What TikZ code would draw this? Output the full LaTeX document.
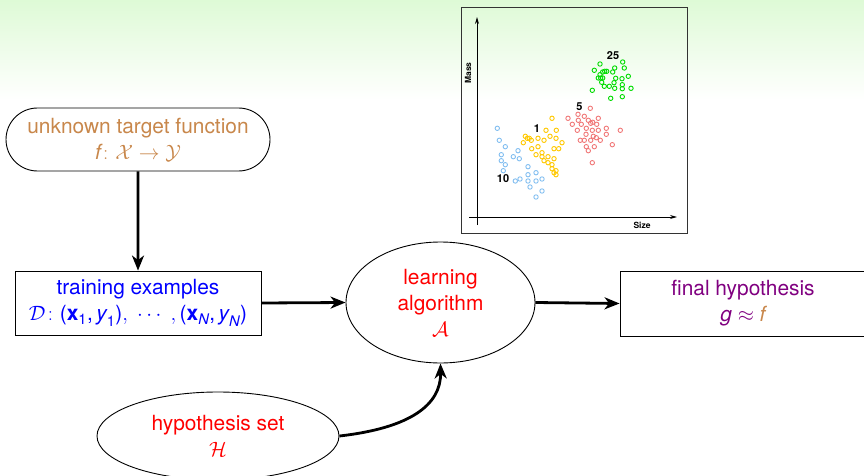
\documentclass[tikz,border=0pt]{standalone}
\usepackage{amsmath}
\usepackage{fontspec}
\setmainfont{TeX Gyre Heros}
\usetikzlibrary{shapes.geometric,shapes.misc,arrows.meta}
\definecolor{bgtop}{RGB}{222,250,214}
\definecolor{tgt}{RGB}{200,135,75}
\definecolor{fin}{RGB}{128,0,128}
\definecolor{gpt}{RGB}{0,220,0}
\definecolor{rpt}{RGB}{240,120,120}
\definecolor{ypt}{RGB}{255,200,0}
\definecolor{bpt}{RGB}{130,190,240}
\newcommand\mi[1]{\text{\itshape #1}}
\newcommand\mb[1]{\text{\bfseries #1}}
\newcommand\tp[1]{\text{#1}}
\tikzset{
  box/.style={draw=black, line width=0.9pt, inner sep=0pt, align=center,
    font=\fontsize{20.9}{26}\selectfont},
  arr/.style={line width=2.8pt, -{Stealth[length=15pt,width=12pt,inset=4.5pt]}},
  axarr/.style={line width=0.9pt, -{Stealth[length=7pt,width=4pt]}},
  pt/.style={line width=0.9pt},
  lab/.style={font=\fontsize{11}{12}\selectfont\bfseries, inner sep=0pt},
  axlab/.style={font=\fontsize{8.5}{9}\selectfont\bfseries, inner sep=0pt}
}
\begin{document}
\begin{tikzpicture}[x=1pt,y=-1pt]
\useasboundingbox (0,0) rectangle (864,476);
\shade[top color=bgtop, bottom color=white] (0,0) rectangle (864,100);
\begin{scope}
\clip (0,0) rectangle (864,476);
% scatter plot
\draw[line width=0.9pt, black!80] (461,7) rectangle (687,233);
\draw[axarr] (477,225) -- (477,17);
\draw[axarr] (469,217) -- (677,217);
\node[axlab, rotate=90] (mass) at (468,73) {Mass};
\node[axlab] (size) at (642,225) {Size};
\foreach \p in {(600.0,64.0),(622.7,62.0),(594.3,70.3),(602.7,72.0),(604.7,71.3),(606.7,71.3),(612.7,72.0),(614.7,68.0),(624.3,68.0),(600.0,74.7),(598.3,78.0),(600.7,78.0),(602.7,78.0),(601.7,82.3),(615.7,78.3),(622.0,78.7),(628.3,76.3),(614.0,82.7),(622.3,84.7),(604.3,86.3),(609.3,86.3),(614.7,88.3),(622.3,88.7),(631.0,88.3),(592.3,90.3),(610.7,98.3),(622.3,96.7)}
  \draw[pt, gpt] \p circle (2.2);
\foreach \p in {(590.3,108.3),(568.0,118.3),(578.0,114.3),(584.3,116.3),(578.3,120.3),(588.3,120.3),(598.3,118.3),(572.3,124.3),(581.3,124.3),(590.7,123.3),(592.7,122.3),(596.7,124.3),(577.3,130.3),(586.3,128.3),(592.3,130.3),(598.3,130.3),(606.3,128.3),(620.3,130.3),(606.3,134.3),(586.0,134.3),(593.3,136.3),(596.3,137.7),(580.3,140.3),(584.3,140.3),(590.7,140.3),(600.3,140.3),(612.3,144.7),(586.3,146.7),(594.3,146.7),(588.3,150.7),(592.3,162.7)}
  \draw[pt, rpt] \p circle (2.2);
\foreach \p in {(552.0,118.3),(546.0,130.3),(556.3,130.3),(538.0,138.3),(550.0,136.3),(556.0,138.3),(525.3,136.3),(527.3,138.3),(529.3,138.3),(523.3,142.7),(531.3,140.3),(544.0,140.3),(562.0,142.7),(538.0,146.7),(531.7,148.7),(554.0,148.7),(558.7,148.7),(542.0,152.7),(536.0,154.7),(542.0,156.7),(548.0,156.7),(554.0,158.7),(544.0,160.7),(548.0,162.7),(552.0,164.7),(552.0,168.7),(556.0,170.7),(554.0,172.7),(556.0,174.7)}
  \draw[pt, ypt] \p circle (2.2);
\foreach \p in {(497.3,128.3),(499.3,140.3),(505.3,146.7),(501.3,154.7),(513.3,156.7),(518.0,150.7),(519.3,158.7),(501.3,160.7),(505.3,164.7),(503.3,170.7),(528.0,166.7),(536.0,172.7),(528.0,174.7),(542.0,179.0),(520.0,179.0),(515.3,181.0),(528.0,181.0),(536.0,181.0),(530.0,187.0),(542.0,191.0),(536.0,197.0)}
  \draw[pt, bpt] \p circle (2.2);
\node[lab] (l25) at (613,56) {25};
\node[lab] (l5) at (579.5,107) {5};
\node[lab] (l1) at (537,128.5) {1};
\node[lab] (l10) at (503,179) {10};
% flow nodes
\node[box, rounded rectangle, minimum width=264pt, minimum height=63pt, text=tgt] (target) at (138,139.5)
  {unknown target function\\ $\mi{f}\colon \mathcal{X}\to\mathcal{Y}$};
\node[box, rectangle, minimum width=246pt, minimum height=64pt, text=blue] (train) at (138,303)
  {training examples\\ $\mathcal{D}\colon \tp{(}\mb{x}_{\text{1}}\tp{,}\,\mi{y}_{\text{1}}\tp{)},\;\cdots\;,\tp{(}\mb{x}_{\mi{N}}\tp{,}\,\mi{y}_{\mi{N}}\tp{)}$};
\node[box, ellipse, minimum width=189pt, minimum height=121pt, text=red] (learn) at (440.5,302.5)
  {learning\\ algorithm\\ $\mathcal{A}$};
\node[box, rectangle, minimum width=246pt, minimum height=65pt, text=fin] (final) at (743,303.5)
  {final hypothesis\\ $\mi{g}\approx\textcolor{tgt}{\mi{f}}$};
\node[box, ellipse, minimum width=242pt, minimum height=88pt, text=red] (hyp) at (218,436)
  {hypothesis set\\ $\mathcal{H}$};
\draw[arr] (target) -- (train);
\draw[arr] (train.east) -- (learn.west);
\draw[arr] (learn.east) -- (final.west);
\draw[arr] (hyp.east) .. controls (410,428) and (441,405) .. (learn.south);
\end{scope}
\end{tikzpicture}
\end{document}
